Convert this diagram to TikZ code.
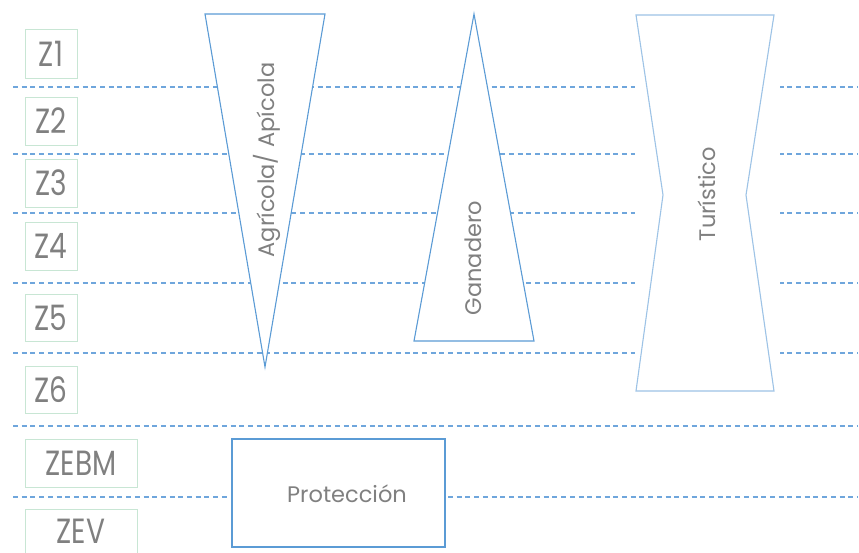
\documentclass[tikz,border=0pt]{standalone}
\usepackage{fontspec}
\setmainfont{Poppins}
\definecolor{lineblue}{HTML}{5B9BD5}
\definecolor{dashblue}{HTML}{6FA6DC}
\definecolor{lightblue}{HTML}{9DC3E6}
\definecolor{boxgreen}{HTML}{C8E6D4}
\definecolor{txtgray}{HTML}{808080}
\tikzset{
  zonebox/.style={draw=boxgreen, line width=0.9pt, fill=white, inner sep=0pt, text=txtgray,
    font=\fontsize{28}{28}\selectfont},
  zonetext/.style={inner sep=0pt, text=txtgray, font=\fontsize{28}{28}\selectfont},
  sepline/.style={draw=dashblue, line width=1.1pt, dash pattern=on 5pt off 3.7pt},
  usoshape/.style={draw=lineblue, line width=1.1pt, fill=white},
  usotext/.style={text=txtgray, font=\fontsize{22.5}{22.5}\selectfont, inner sep=0pt}
}
\newcommand{\zl}[1]{\scalebox{1}[1.25]{#1}}
\begin{document}
\begin{tikzpicture}[x=1pt,y=-1pt]
\useasboundingbox (0,0) rectangle (859,552);
\clip (0,0) rectangle (859,552);
% separator lines
\foreach \yy/\nm in {87/l1,154/l2,213/l3,283/l4,353/l5,426/l6,497/l7}{
  \coordinate (\nm a) at (13,\yy);
  \coordinate (\nm b) at (857,\yy);
  \draw[sepline] (\nm a) -- (\nm b);
}
% zone boxes
\node[zonebox, minimum width=52pt, minimum height=49pt] (z1) at (51,53.5) {\zl{Z1}};
\node[zonebox, minimum width=52pt, minimum height=48pt] (z2) at (51,121) {\zl{Z2}};
\node[zonebox, minimum width=52pt, minimum height=48pt] (z3) at (51,183) {\zl{Z3}};
\node[zonebox, minimum width=52pt, minimum height=48pt] (z4) at (51,246) {\zl{Z4}};
\node[zonebox, minimum width=52pt, minimum height=47pt] (z5) at (51,317.5) {\zl{Z5}};
\node[zonebox, minimum width=52pt, minimum height=47pt] (z6) at (51,389.5) {\zl{Z6}};
\node[zonebox, minimum width=112pt, minimum height=48pt] (zebm) at (81,463) {\zl{ZEBM}};
\coordinate (zeva) at (25,509);
\coordinate (zevb) at (137,562);
\draw[draw=boxgreen, line width=0.9pt, fill=white] (zeva) rectangle (zevb);
\node[zonetext] (zev) at (81,531) {\zl{ZEV}};
% Agricola / Apicola inverted triangle
\coordinate (a1) at (205,14);
\coordinate (a2) at (325,14);
\coordinate (a3) at (265,367);
\draw[usoshape] (a1) -- (a2) -- (a3) -- cycle;
\node[usotext, rotate=90] (agri) at (267,160) {Agrícola/ Apícola};
% Ganadero triangle
\coordinate (g1) at (474,14);
\coordinate (g2) at (534,341);
\coordinate (g3) at (414,341);
\draw[usoshape] (g1) -- (g2) -- (g3) -- cycle;
\node[usotext, rotate=90] (gan) at (473,258) {Ganadero};
% Turistico hourglass
\fill[white] (634.5,14) rectangle (779.5,392);
\coordinate (t1) at (636,15);
\coordinate (t2) at (774,15);
\coordinate (t3) at (746,195);
\coordinate (t4) at (774,391);
\coordinate (t5) at (636,391);
\coordinate (t6) at (663,195);
\draw[usoshape, draw=lightblue] (t1) -- (t2) -- (t3) -- (t4) -- (t5) -- (t6) -- cycle;
\node[usotext, rotate=90] (tur) at (707,194) {Turístico};
% Proteccion
\fill[white] (229,438) rectangle (448,549);
\node[usoshape, minimum width=213pt, minimum height=108pt, inner sep=0pt] (prot) at (338.5,493) {};
\node[usotext] (protl) at (347,494) {Protección};
\end{tikzpicture}
\end{document}
